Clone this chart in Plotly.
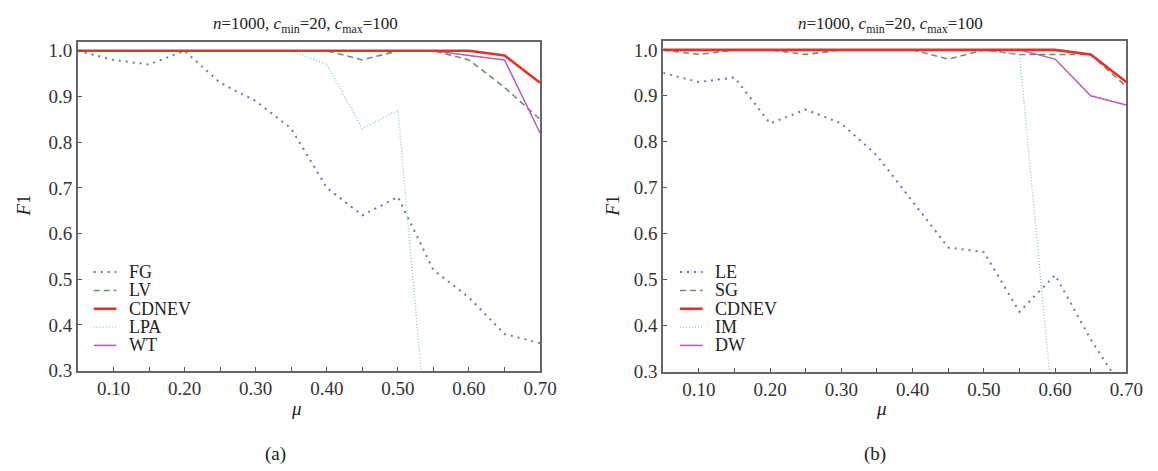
import plotly.graph_objects as go

mu = [0.05, 0.10, 0.15, 0.20, 0.25, 0.30, 0.35, 0.40, 0.45, 0.50, 0.55, 0.60, 0.65, 0.70]
x_ticks = [0.10, 0.20, 0.30, 0.40, 0.50, 0.60, 0.70]
x_tick_labels = ["0.10", "0.20", "0.30", "0.40", "0.50", "0.60", "0.70"]
y_ticks = [0.3, 0.4, 0.5, 0.6, 0.7, 0.8, 0.9, 1.0]
y_tick_labels = ["0.3", "0.4", "0.5", "0.6", "0.7", "0.8", "0.9", "1.0"]

# Panel (a)
names_a = ["FG", "LV", "CDNEV", "LPA", "WT"]
fg = [1.00, 0.98, 0.97, 1.00, 0.93, 0.89, 0.83, 0.70, 0.64, 0.68, 0.52, 0.46, 0.38, 0.36]
lv = [1.00, 1.00, 1.00, 1.00, 1.00, 1.00, 1.00, 1.00, 0.98, 1.00, 1.00, 0.98, 0.92, 0.85]
cdnev_a = [1.00, 1.00, 1.00, 1.00, 1.00, 1.00, 1.00, 1.00, 1.00, 1.00, 1.00, 1.00, 0.99, 0.93]
lpa = [1.00, 1.00, 1.00, 1.00, 1.00, 1.00, 1.00, 0.97, 0.83, 0.87, 0.00, 0.00, 0.00, 0.00]
wt = [1.00, 1.00, 1.00, 1.00, 1.00, 1.00, 1.00, 1.00, 1.00, 1.00, 1.00, 0.99, 0.98, 0.82]

# Panel (b)
names_b = ["LE", "SG", "CDNEV", "IM", "DW"]
le = [0.95, 0.93, 0.94, 0.84, 0.87, 0.84, 0.77, 0.67, 0.57, 0.56, 0.43, 0.51, 0.37, 0.25]
sg = [1.00, 0.99, 1.00, 1.00, 0.99, 1.00, 1.00, 1.00, 0.98, 1.00, 0.99, 0.99, 0.99, 0.92]
cdnev_b = [1.00, 1.00, 1.00, 1.00, 1.00, 1.00, 1.00, 1.00, 1.00, 1.00, 1.00, 1.00, 0.99, 0.93]
im = [1.00, 1.00, 1.00, 1.00, 1.00, 1.00, 1.00, 1.00, 1.00, 1.00, 0.99, 0.17, 0.10, 0.10]
dw = [1.00, 1.00, 1.00, 1.00, 1.00, 1.00, 1.00, 1.00, 1.00, 1.00, 1.00, 0.98, 0.90, 0.88]

SERIF = "Liberation Serif, Times New Roman, serif"
styles = [  # colour, width, dash  (same order as the legend)
    ("#6d73ad", 2.0, "2px,5px"),
    ("#6e8c6e", 1.6, "6px,4px"),
    ("#e8302a", 2.6, "solid"),
    ("#8fc6de", 1.4, "1px,2px"),
    ("#b25fb5", 1.5, "solid"),
]
draw_order = [0, 1, 3, 4, 2]  # red drawn last (on top)

fig = go.Figure()
for xa, ya, names, series in (("x", "y", names_a, [fg, lv, cdnev_a, lpa, wt]),
                              ("x2", "y2", names_b, [le, sg, cdnev_b, im, dw])):
    for i in draw_order:
        c, w, d = styles[i]
        fig.add_trace(go.Scatter(x=mu, y=series[i], name=names[i], mode="lines",
                                 xaxis=xa, yaxis=ya, showlegend=False,
                                 line=dict(color=c, width=w, dash=d)))

W, H = 1158, 471
LEFT = (71, 540, 34, 371)    # x0, x1, ytop, ybottom in pixels
RIGHT = (665, 1135, 33, 372)

def xaxis(p):
    return dict(
        domain=[p[0] / W, p[1] / W], range=[0.05, 0.70], tickvals=x_ticks, ticktext=x_tick_labels,
        ticks="inside", ticklen=4, tickcolor="#555", showline=True, linecolor="#666",
        linewidth=2, mirror=True, showgrid=False, zeroline=False,
        tickfont=dict(family=SERIF, size=19, color="#333"),
        minor=dict(tickvals=[0.15, 0.25, 0.35, 0.45, 0.55, 0.65], ticks="inside",
                   ticklen=4, tickcolor="#555", showgrid=False),
    )

def yaxis(p, anchor):
    return dict(
        domain=[1 - p[3] / H, 1 - p[2] / H], range=[0.3, 1.019], tickvals=y_ticks,
        ticktext=y_tick_labels, ticks="inside", ticklen=4, tickcolor="#555", showline=True,
        linecolor="#666", linewidth=2, mirror=True, showgrid=False, zeroline=False,
        anchor=anchor, tickfont=dict(family=SERIF, size=19, color="#333"),
    )

fig.update_layout(
    width=W, height=H, margin=dict(l=0, r=0, t=0, b=0),
    paper_bgcolor="white", plot_bgcolor="white", showlegend=False,
    xaxis=dict(**xaxis(LEFT), anchor="y"),
    yaxis=yaxis(LEFT, "x"),
    xaxis2=dict(**xaxis(RIGHT), anchor="y2"),
    yaxis2=yaxis(RIGHT, "x2"),
)

def ann(x, y, text, size=18, anchor="center", angle=0):
    fig.add_annotation(xref="paper", yref="paper", x=x / W, y=1 - y / H, text=text,
                       showarrow=False, xanchor=anchor, yanchor="middle", textangle=angle,
                       font=dict(family=SERIF, size=size, color="#222"))

title = "<i>n</i>=1000, <i>c</i><sub>min</sub>=20, <i>c</i><sub>max</sub>=100"
ann(302, 16, title, 17)
ann(896, 16, title, 17)
ann(293, 410, "<i>μ</i>", 19)
ann(887, 410, "<i>μ</i>", 19)
ann(271, 457, "(a)", 19)
ann(880, 457, "(b)", 19)
ann(16, 202, "<i>F</i>1", 19, angle=-90)
ann(614, 202, "<i>F</i>1", 19, angle=-90)

# legends drawn by hand (tight row spacing as in the reference)
for names, lx0 in ((names_a, 87), (names_b, 682)):
    for k, nm in enumerate(names):
        yy = 270 + k * 18.8
        c, w, d = styles[k]
        fig.add_shape(type="line", xref="paper", yref="paper",
                      x0=lx0 / W, x1=(lx0 + 23) / W, y0=1 - yy / H, y1=1 - yy / H,
                      line=dict(color=c, width=w, dash=d))
        ann(lx0 + 34, yy, nm, 18, anchor="left")

fig.write_html("out.html")
